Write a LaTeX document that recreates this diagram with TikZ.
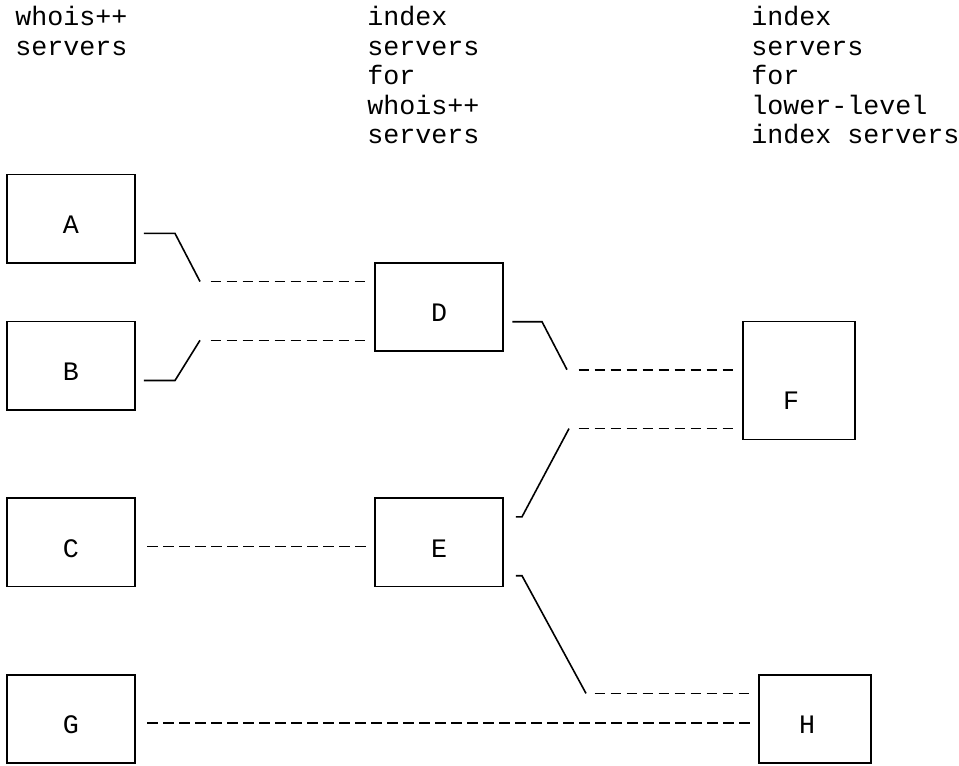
\documentclass[tikz,border=0pt]{standalone}
\usepackage{fontspec}
\setmainfont{Liberation Mono}
\usetikzlibrary{positioning}
\tikzset{
every node/.style={font=\fontsize{20}{22.07}\selectfont, inner sep=0pt}, % typewriter text everywhere
srv/.style={draw, line width=1.2pt, minimum height=66.2pt}, % outline of a server
box/.style={srv, minimum width=96pt, label={[yshift=-4.4pt]center:#1}}, % server with its letter
wire/.style={line width=1.2pt}, % the __ and slash pieces
link/.style={line width=1.2pt, dash pattern=on 7.875pt off 4.125pt, dash phase=10.125pt}, % the ---- pieces
head/.style={anchor=base west, align=left}, % column titles, placed by their last line
}

\begin{document}
\begin{tikzpicture}[x=0.75pt, y=-0.75pt]
    \useasboundingbox (0,0) rectangle (959,765);
    % column titles
    \node[head] (tleft) at (15,55.42) {whois++\\servers};
    \node[head] (tmid) at (367,143.68) {index\\servers\\for\\whois++\\servers};
    \node[head] (tright) at (751,143.68) {index\\servers\\for\\lower-level\\index servers};
    % servers
    \node[box=A] (A) at (71,218.75) {};
    \node[box=B, below of=A, node distance=110.3pt] (B) {};
    \node[box=C, below of=B, node distance=132.4pt] (C) {};
    \node[box=G, below of=C, node distance=132.4pt] (G) {};
    \node[box=E, right of=C, node distance=276pt] (E) {};
    \node[box=D, above of=E, node distance=176.5pt] (D) {};
    \node[srv, minimum width=84pt, minimum height=88.3pt, label={[xshift=-6pt, yshift=-15.4pt]center:F}] (F) at (799,380.55) {};
    \node[srv, minimum width=84pt, right of=G, node distance=558pt, label={[xshift=-6pt, yshift=-4.4pt]center:H}] (H) {};
    % bends of the links
    \coordinate (ad1) at (175,233.4);
    \coordinate (ad2) at (200,281.5);
    \coordinate (bd1) at (175,380.5);
    \coordinate (bd2) at (200,340.3);
    \coordinate (df1) at (542,321.7);
    \coordinate (df2) at (567,369.7);
    \coordinate (ef1) at (522,516.8);
    \coordinate (ef2) at (569,428.6);
    \coordinate (eh1) at (522,575.7);
    \coordinate (eh2) at (586,693.4);
    % links
    \draw[wire, shorten <=6pt] (A.east |- ad1) -- (ad1) -- (ad2);
    \draw[link, shorten <=6pt, shorten >=5.25pt] (ad2) -- (ad2 -| D.west);
    \draw[wire, shorten <=6pt] (B.east |- bd1) -- (bd1) -- (bd2);
    \draw[link, shorten <=6pt, shorten >=5.25pt] (bd2) -- (bd2 -| D.west);
    \draw[wire, shorten <=6.5pt] (D.east |- df1) -- (df1) -- (df2);
    \draw[link, shorten <=6.75pt, shorten >=5.25pt] (df2) -- (df2 -| F.west);
    \draw[wire, shorten <=9pt] (E.east |- ef1) -- (ef1) -- (ef2);
    \draw[link, shorten <=5.25pt, shorten >=5.25pt] (ef2) -- (ef2 -| F.west);
    \draw[wire, shorten <=9pt] (E.east |- eh1) -- (eh1) -- (eh2);
    \draw[link, shorten <=4.5pt, shorten >=5.25pt] (eh2) -- (eh2 -| H.west);
    \draw[link, shorten <=6.75pt, shorten >=5.25pt] ([yshift=-2.96pt]C.east) -- ([yshift=-2.96pt]E.west);
    \draw[link, shorten <=6.75pt, shorten >=5.25pt] ([yshift=-2.9pt]G.east) -- ([yshift=-2.9pt]H.west);
\end{tikzpicture}
\end{document}
